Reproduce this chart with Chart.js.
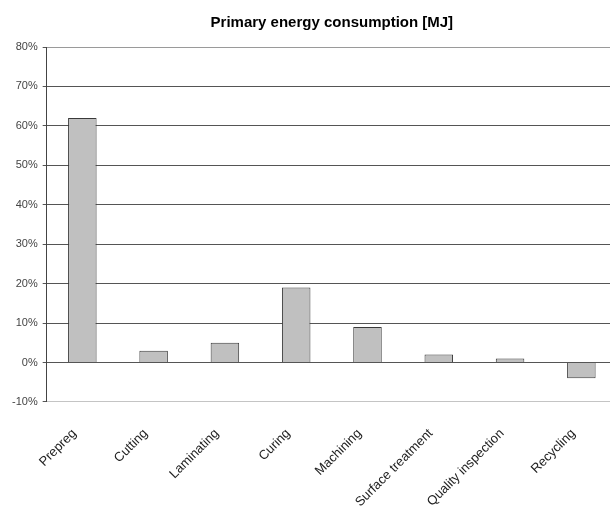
<!DOCTYPE html>
<html>
<head>
<meta charset="utf-8">
<script src="https://cdn.jsdelivr.net/npm/chart.js@4/dist/chart.umd.min.js"></script>
<style>
  html, body { margin: 0; padding: 0; background: #fff; overflow: hidden; }
  #wrap { width: 662px; height: 540px; }
</style>
</head>
<body>
<div id="wrap"><canvas id="chart" width="662" height="540"></canvas></div>
<script>
// Process steps and their share of primary energy consumption (%)
const categories = ["Prepreg", "Cutting", "Laminating", "Curing", "Machining", "Surface treatment", "Quality inspection", "Recycling"];
const shares = [62, 3, 5, 19, 9, 2, 1, -4];
const yMin = -10;
const yMax = 80;
const yStep = 10;
const chartTitle = "Primary energy consumption [MJ]";

const gridColor = (ctx) => {
  const v = ctx.tick ? ctx.tick.value : null;
  if (v === yMax) return "#9a9a9a";
  if (v === yMin) return "#c4c4c4";
  return "#555555";
};

// Title centred over the plot area rather than the whole canvas
const plotTitle = {
  id: "plotTitle",
  afterDraw(chart) {
    const { ctx, chartArea } = chart;
    ctx.save();
    ctx.font = "bold 15px 'Liberation Sans', Arial, sans-serif";
    ctx.fillStyle = "#000";
    ctx.textAlign = "center";
    ctx.textBaseline = "alphabetic";
    ctx.fillText(chartTitle, (chartArea.left + chartArea.right) / 2, 27);
    ctx.restore();
  }
};

new Chart(document.getElementById("chart"), {
  type: "bar",
  data: {
    labels: categories,
    datasets: [{
      data: shares,
      backgroundColor: "#c0c0c0",
      borderColor: "#3a3a3a",
      borderWidth: 1,
      barPercentage: 0.4,
      categoryPercentage: 1.0
    }]
  },
  plugins: [plotTitle],
  options: {
    responsive: false,
    animation: false,
    devicePixelRatio: 1,
    layout: { padding: { left: 7, right: 45, top: 47, bottom: 6 } },
    plugins: {
      legend: { display: false },
      tooltip: { enabled: false },
      title: { display: false }
    },
    scales: {
      x: {
        grid: { display: true, color: "rgba(0,0,0,0)", drawTicks: false },
        border: { display: true, color: "#c4c4c4", width: 1 },
        ticks: {
          autoSkip: false,
          minRotation: 45,
          maxRotation: 45,
          padding: 24,
          labelOffset: -8,
          color: "#222",
          font: { family: "Liberation Sans", size: 13 }
        }
      },
      y: {
        min: yMin,
        max: yMax,
        grid: { color: gridColor, tickColor: "#555555", tickLength: 4, lineWidth: 1 },
        border: { display: true, color: "#444444", width: 1 },
        ticks: {
          stepSize: yStep,
          padding: 5,
          color: "#444",
          font: { family: "Liberation Sans", size: 11 },
          callback: (v) => v + "%"
        }
      }
    }
  }
});
</script>
</body>
</html>
